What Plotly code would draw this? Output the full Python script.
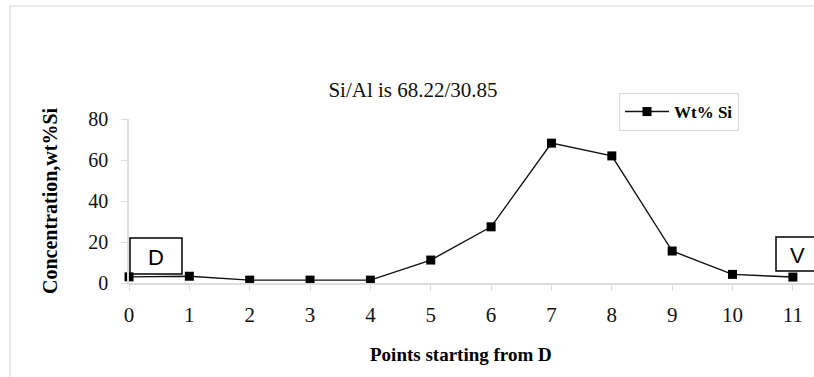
import plotly.graph_objects as go

points = list(range(12))
wt_si = [3.0, 3.3, 1.4, 1.4, 1.4, 11.2, 27.4, 68.22, 62.0, 15.6, 4.2, 2.9]
x_ticks = list(range(12))
y_ticks = [0, 20, 40, 60, 80]
title_text = "Si/Al is 68.22/30.85"
series_name = "Wt% Si"

W, H = 814, 377
L, R, T, B = 129, 0, 119, 94
pw = W - L - R
ph = H - T - B

def px(x):
    return (x - L) / pw

def py(y):
    return (H - B - y) / ph

serif = "Liberation Serif"
sans = "Liberation Sans"

fig = go.Figure()
fig.add_trace(go.Scatter(
    x=points, y=wt_si, mode="lines+markers", name=series_name,
    line=dict(color="#111111", width=1.4),
    marker=dict(symbol="square", size=9, color="black"),
    cliponaxis=False,
))

fig.update_layout(
    width=W, height=H,
    margin=dict(l=L, r=R, t=T, b=B),
    paper_bgcolor="white", plot_bgcolor="white",
    showlegend=True,
    legend=dict(
        x=px(619), y=py(93), xanchor="left", yanchor="top",
        bordercolor="#d8d8d8", borderwidth=1, bgcolor="white",
        font=dict(family=serif, size=17, color="black", weight="bold"),
        itemwidth=44, tracegroupgap=0,
    ),
    title=dict(text=title_text, xref="paper", x=px(413), xanchor="center",
               yref="container", y=1 - 90 / H, yanchor="middle",
               font=dict(family=serif, size=21, color="#111111")),
    xaxis=dict(
        range=[0, 11.35], tickmode="array", tickvals=x_ticks,
        ticktext=[str(v) for v in x_ticks],
        showgrid=False, zeroline=False, showline=True,
        linecolor="#dddddd", linewidth=1.5,
        ticks="outside", ticklen=6, tickcolor="#dddddd", tickwidth=1,
        ticklabelstandoff=6,
        tickfont=dict(family=serif, size=21, color="#111111"),
    ),
    yaxis=dict(
        range=[0, 80], tickmode="array", tickvals=y_ticks,
        showgrid=False, zeroline=False, showline=True,
        linecolor="#dddddd", linewidth=1.5,
        ticks="outside", ticklen=6, tickcolor="#dddddd", tickwidth=1,
        ticklabelstandoff=9,
        tickfont=dict(family=serif, size=20, color="#111111"),
    ),
    annotations=[
        dict(text="Points starting from D", xref="paper", yref="paper",
             x=px(461), y=py(354), xanchor="center", yanchor="middle",
             showarrow=False,
             font=dict(family=serif, size=19, color="black", weight="bold")),
        dict(text="Concentration,wt%Si", xref="paper", yref="paper",
             x=px(50), y=py(201), xanchor="center", yanchor="middle",
             textangle=-90, showarrow=False,
             font=dict(family=serif, size=20, color="black", weight="bold")),
        dict(text="D", xref="paper", yref="paper",
             x=px(156), y=py(257), xanchor="center", yanchor="middle",
             showarrow=False,
             font=dict(family=sans, size=22, color="black")),
        dict(text="V", xref="paper", yref="paper",
             x=px(797), y=py(255), xanchor="center", yanchor="middle",
             showarrow=False,
             font=dict(family=sans, size=22, color="black")),
    ],
    shapes=[
        dict(type="rect", xref="paper", yref="paper",
             x0=px(10), x1=px(830), y0=py(390), y1=py(6),
             line=dict(color="#e2e2e2", width=1.5), layer="below"),
        dict(type="rect", xref="paper", yref="paper",
             x0=px(130), x1=px(182), y0=py(274), y1=py(238),
             line=dict(color="black", width=1.5)),
        dict(type="rect", xref="paper", yref="paper",
             x0=px(776), x1=px(840), y0=py(271), y1=py(237),
             line=dict(color="black", width=1.5)),
    ],
)

fig.write_html("out.html",
               config={"displayModeBar": False},
               post_script="document.body.style.margin='0';document.body.style.padding='0';")
